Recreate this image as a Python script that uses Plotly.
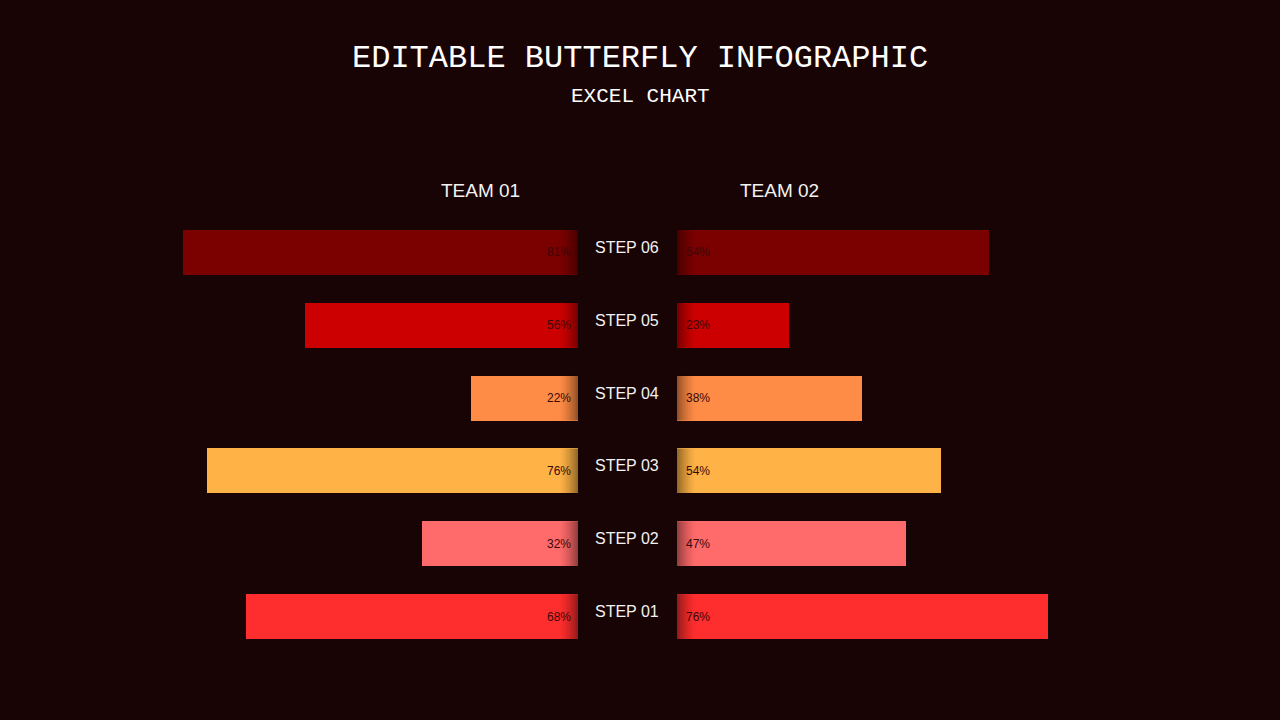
import plotly.graph_objects as go

steps = ["STEP 01", "STEP 02", "STEP 03", "STEP 04", "STEP 05", "STEP 06"]
team1 = [68, 32, 76, 22, 56, 81]
team2 = [76, 47, 54, 38, 23, 64]
colors = ["#ff2e2e", "#ff6b6b", "#ffb347", "#ff8c46", "#cc0000", "#7b0000"]
teams = ["TEAM 01", "TEAM 02"]

BG = "#180404"
W, H = 1280, 720
top, bottom = 215.5, 66.5
plot_h = H - top - bottom
bar_w = 0.616
LBL = dict(color="#3a0808", size=12, family="Liberation Sans, Arial")
WHITE = "#f2f2f2"

def ypaper(px):
    return (H - bottom - px) / plot_h

yidx = list(range(len(steps)))

fig = go.Figure()
for vals, ax in ((team1, "x"), (team2, "x2")):
    fig.add_trace(go.Bar(
        y=yidx, x=vals, orientation="h", xaxis=ax, yaxis="y",
        marker=dict(color=colors, line=dict(width=0)), width=bar_w,
        showlegend=False, hoverinfo="skip"))

# inner-edge shadow gradient
shapes = []
nstrip = 10
sw = 3.8 / nstrip
for k in yidx:
    for ax in ("x", "x2"):
        for i in range(nstrip):
            shapes.append(dict(type="rect", xref=ax, yref="y",
                               x0=i * sw, x1=(i + 1) * sw,
                               y0=k - bar_w / 2, y1=k + bar_w / 2,
                               fillcolor="black", opacity=0.42 * (1 - i / nstrip) ** 1.5,
                               line=dict(width=0), layer="above"))

annotations = []
for k in yidx:
    annotations.append(dict(text=f"{team1[k]}%", x=0, xref="x", y=k, yref="y",
                            xanchor="right", yanchor="middle", xshift=-5,
                            showarrow=False, font=LBL))
    annotations.append(dict(text=f"{team2[k]}%", x=0, xref="x2", y=k, yref="y",
                            xanchor="left", yanchor="middle", xshift=7,
                            showarrow=False, font=LBL))
for k, s in enumerate(steps):
    annotations.append(dict(text=s, x=627 / W, xref="paper", y=k, yref="y",
                            yanchor="middle", yshift=5, showarrow=False,
                            font=dict(color=WHITE, size=16, family="Liberation Sans, Arial")))
for t, xp in zip(teams, (480, 779)):
    annotations.append(dict(text=t, x=xp / W, xref="paper", y=ypaper(190), yref="paper",
                            yanchor="middle", showarrow=False,
                            font=dict(color=WHITE, size=19, family="Liberation Sans, Arial")))
annotations.append(dict(text="EDITABLE BUTTERFLY INFOGRAPHIC", x=0.5, xref="paper", y=ypaper(58),
                        yref="paper", yanchor="middle", showarrow=False,
                        font=dict(color="#ffffff", size=32, family="Liberation Mono, monospace")))
annotations.append(dict(text="EXCEL CHART", x=0.5, xref="paper", y=ypaper(96),
                        yref="paper", yanchor="middle", showarrow=False,
                        font=dict(color="#ffffff", size=21, family="Liberation Mono, monospace")))

fig.update_layout(
    width=W, height=H,
    paper_bgcolor=BG, plot_bgcolor=BG,
    margin=dict(l=0, r=0, t=top, b=bottom),
    xaxis=dict(domain=[90 / W, 578 / W], range=[100, 0], visible=False, fixedrange=True),
    xaxis2=dict(domain=[677 / W, 1165 / W], range=[0, 100], visible=False, fixedrange=True),
    yaxis=dict(range=[-0.5, 5.5], visible=False, fixedrange=True),
    shapes=shapes, annotations=annotations,
    bargap=0,
)

fig.write_html("out.html", config={"displayModeBar": False},
               post_script="document.body.style.margin='0';document.body.style.overflow='hidden';")
